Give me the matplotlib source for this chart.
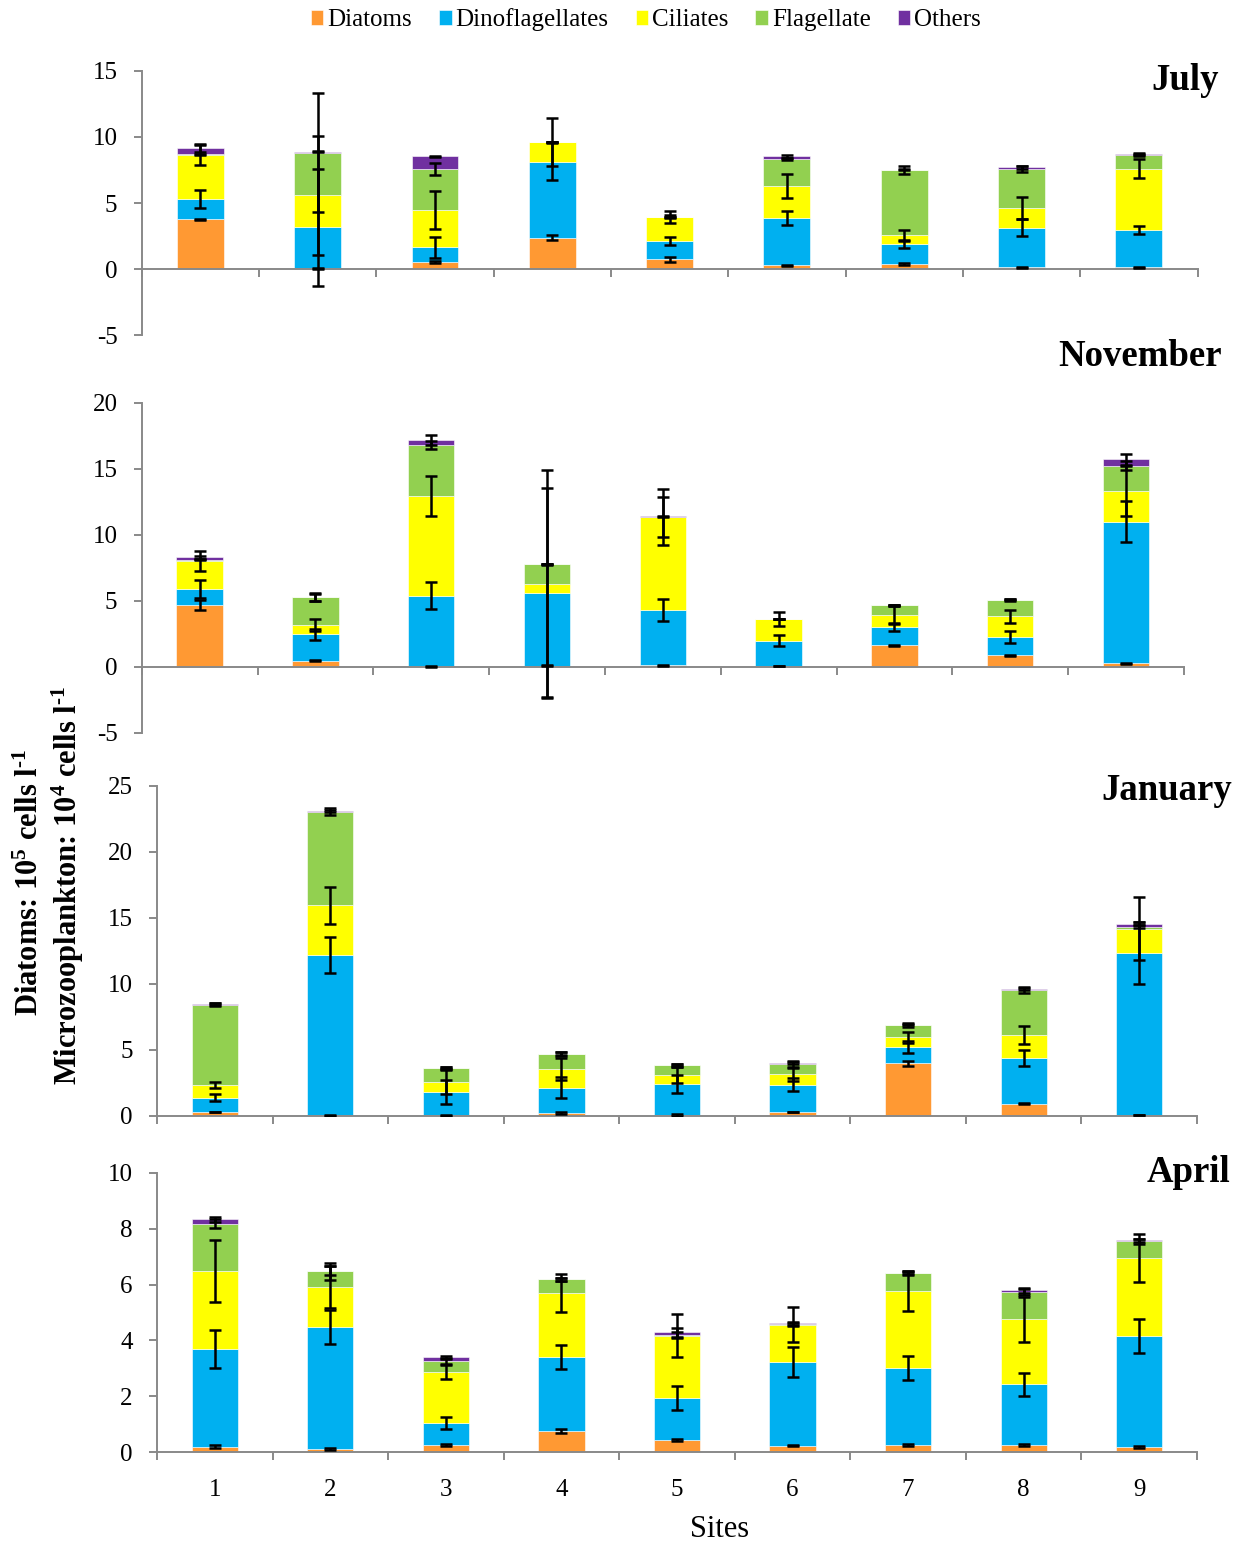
import matplotlib
matplotlib.use('Agg')
import matplotlib.pyplot as plt
import numpy as np

# ---------------- data ----------------
sites = ['1', '2', '3', '4', '5', '6', '7', '8', '9']
series = ['Diatoms', 'Dinoflagellates', 'Ciliates', 'Flagellate', 'Others']
colors = ['#FF9933', '#00B0F0', '#FFFF00', '#92D050', '#7030A0']
months = ['July', 'November', 'January', 'April']

# July
jul_diatoms = [3.76, 0.05, 0.55, 2.39, 0.73, 0.28, 0.38, 0.13, 0.13]
jul_dino = [1.53, 3.10, 1.11, 5.73, 1.39, 3.60, 1.51, 3.00, 2.82]
jul_ciliates = [3.33, 2.45, 2.80, 1.48, 1.81, 2.40, 0.68, 1.51, 4.64]
jul_flag = [0.05, 3.20, 3.10, 0.00, 0.03, 2.04, 4.92, 2.95, 1.03]
jul_others = [0.46, 0.07, 0.96, 0.00, 0.00, 0.20, 0.02, 0.10, 0.08]
jul_diatoms_err = [0.05, 0.05, 0.10, 0.17, 0.18, 0.05, 0.05, 0.05, 0.05]
jul_dino_err = [0.70, 4.45, 0.78, 1.40, 0.29, 0.55, 0.27, 0.63, 0.30]
jul_ciliates_err = [0.77, 4.50, 1.45, 1.80, 0.45, 0.88, 0.40, 0.82, 0.70]
jul_flag_err = [0.05, 4.50, 0.43, 0.00, 0.10, 0.10, 0.33, 0.22, 0.10]
jul_others_err = [0.30, 0.05, 0.05, 0.00, 0.00, 0.10, 0.05, 0.10, 0.10]

# November
nov_diatoms = [4.67, 0.45, 0.02, 0.08, 0.10, 0.05, 1.62, 0.86, 0.25]
nov_dino = [1.21, 2.02, 5.36, 5.53, 4.17, 1.92, 1.38, 1.39, 10.73]
nov_ciliates = [2.12, 0.69, 7.57, 0.65, 7.07, 1.64, 0.94, 1.56, 2.33]
nov_flag = [0.10, 2.09, 3.84, 1.49, 0.02, 0.01, 0.71, 1.24, 1.92]
nov_others = [0.18, 0.03, 0.38, 0.00, 0.02, 0.00, 0.00, 0.03, 0.48]
nov_diatoms_err = [0.35, 0.05, 0.02, 0.03, 0.03, 0.03, 0.05, 0.03, 0.03]
nov_dino_err = [0.70, 0.42, 1.04, 7.90, 0.83, 0.42, 0.33, 0.45, 1.54]
nov_ciliates_err = [0.73, 0.45, 1.52, 8.65, 2.15, 0.50, 0.69, 0.48, 1.90]
nov_flag_err = [0.05, 0.25, 0.33, 0.02, 1.53, 0.03, 0.05, 0.05, 0.33]
nov_others_err = [0.12, 0.30, 0.40, 0.00, 0.03, 0.00, 0.00, 0.05, 0.40]

# January
jan_diatoms = [0.28, 0.02, 0.03, 0.20, 0.05, 0.28, 3.99, 0.91, 0.05]
jan_dino = [1.09, 12.16, 1.79, 1.92, 2.35, 2.07, 1.24, 3.49, 12.29]
jan_ciliates = [0.96, 3.77, 0.76, 1.42, 0.66, 0.78, 0.71, 1.72, 1.84]
jan_flag = [6.09, 7.10, 1.01, 1.14, 0.76, 0.76, 0.94, 3.41, 0.15]
jan_others = [0.05, 0.05, 0.02, 0.02, 0.03, 0.13, 0.02, 0.07, 0.23]
jan_diatoms_err = [0.03, 0.02, 0.03, 0.08, 0.05, 0.03, 0.19, 0.03, 0.03]
jan_dino_err = [0.25, 1.34, 0.91, 0.80, 0.66, 0.50, 0.45, 0.60, 2.35]
jan_ciliates_err = [0.24, 1.40, 0.94, 0.85, 0.60, 0.52, 0.40, 0.70, 2.40]
jan_flag_err = [0.10, 0.28, 0.10, 0.15, 0.12, 0.20, 0.18, 0.20, 0.10]
jan_others_err = [0.05, 0.05, 0.10, 0.10, 0.10, 0.13, 0.05, 0.10, 0.10]

# April
apr_diatoms = [0.20, 0.12, 0.25, 0.76, 0.44, 0.24, 0.26, 0.26, 0.19]
apr_dino = [3.49, 4.37, 0.80, 2.65, 1.50, 3.00, 2.76, 2.18, 3.98]
apr_ciliates = [2.79, 1.42, 1.81, 2.29, 2.23, 1.32, 2.75, 2.32, 2.79]
apr_flag = [1.70, 0.57, 0.41, 0.49, 0.03, 0.02, 0.63, 0.98, 0.58]
apr_others = [0.15, 0.02, 0.13, 0.00, 0.09, 0.03, 0.02, 0.05, 0.04]
apr_diatoms_err = [0.05, 0.02, 0.04, 0.06, 0.04, 0.03, 0.03, 0.03, 0.04]
apr_dino_err = [0.67, 0.60, 0.21, 0.44, 0.42, 0.53, 0.44, 0.41, 0.61]
apr_ciliates_err = [1.10, 0.76, 0.25, 0.68, 0.77, 0.62, 0.70, 0.80, 0.86]
apr_flag_err = [0.15, 0.30, 0.10, 0.05, 0.10, 0.05, 0.05, 0.10, 0.08]
apr_others_err = [0.10, 0.15, 0.05, 0.05, 0.15, 0.05, 0.05, 0.10, 0.05]

panel_values = [
    [jul_diatoms, jul_dino, jul_ciliates, jul_flag, jul_others],
    [nov_diatoms, nov_dino, nov_ciliates, nov_flag, nov_others],
    [jan_diatoms, jan_dino, jan_ciliates, jan_flag, jan_others],
    [apr_diatoms, apr_dino, apr_ciliates, apr_flag, apr_others],
]
panel_errors = [
    [jul_diatoms_err, jul_dino_err, jul_ciliates_err, jul_flag_err, jul_others_err],
    [nov_diatoms_err, nov_dino_err, nov_ciliates_err, nov_flag_err, nov_others_err],
    [jan_diatoms_err, jan_dino_err, jan_ciliates_err, jan_flag_err, jan_others_err],
    [apr_diatoms_err, apr_dino_err, apr_ciliates_err, apr_flag_err, apr_others_err],
]
y_ranges = [(-5, 15, 5), (-5, 20, 5), (0, 25, 5), (0, 10, 2)]

# ---------------- style ----------------
plt.rcParams['font.family'] = ['Liberation Serif', 'DejaVu Serif']
plt.rcParams['mathtext.fontset'] = 'custom'
plt.rcParams['mathtext.rm'] = 'Liberation Serif'
plt.rcParams['mathtext.bf'] = 'Liberation Serif:bold'
plt.rcParams['mathtext.it'] = 'Liberation Serif:italic'

W, H = 1244, 1544
fig = plt.figure(figsize=(W / 100, H / 100), dpi=100)

# axes boxes in pixels: left, right, top, bottom
boxes = [
    (141.7, 1197.5, 70.7, 335.3),
    (141.7, 1184.0, 402.7, 732.7),
    (157.0, 1197.0, 786.0, 1115.7),
    (157.0, 1197.0, 1172.7, 1452.3),
]
title_pos = [(1219, 90.5), (1222, 366), (1232, 800.5), (1230, 1181.5)]

GRAY = '#898989'
x = np.arange(len(sites))
bar_w = 0.4

for i, (vals, errs) in enumerate(zip(panel_values, panel_errors)):
    l, r, t, b = boxes[i]
    ax = fig.add_axes([l / W, 1 - b / H, (r - l) / W, (b - t) / H])
    bottom = np.zeros(len(sites))
    for s, (v, e) in enumerate(zip(vals, errs)):
        v = np.array(v)
        ax.bar(x, v, bar_w, bottom=bottom, color=colors[s], edgecolor='white',
               linewidth=0.4, label=series[s], zorder=2)
        bottom = bottom + v
        ax.errorbar(x, bottom, yerr=e, fmt='none', ecolor='black',
                    elinewidth=1.8, capsize=4, capthick=1.8, zorder=4)
    ymin, ymax, step = y_ranges[i]
    ax.set_ylim(ymin, ymax)
    ax.set_xlim(-0.5, len(sites) - 0.5)
    ax.set_yticks(np.arange(ymin, ymax + 0.01, step))
    ax.set_yticklabels([f'{v:g}' for v in np.arange(ymin, ymax + 0.01, step)])
    ax.set_xticks(np.arange(-0.5, len(sites)), labels=[''] * (len(sites) + 1))
    if i == 3:
        ax.set_xticks(x, labels=sites, minor=True)
        ax.tick_params(axis='x', which='minor', length=0, pad=19, labelsize=18)
    else:
        ax.set_xticks([], minor=True)
    for sp in ['top', 'right']:
        ax.spines[sp].set_visible(False)
    for sp in ['left', 'bottom']:
        ax.spines[sp].set_color(GRAY)
        ax.spines[sp].set_linewidth(1.4)
    ax.spines['bottom'].set_position(('data', 0))
    ax.tick_params(axis='y', which='major', length=5.5, width=1.4, color=GRAY,
                   labelsize=18, pad=12)
    ax.tick_params(axis='x', which='major', length=6, width=1.4, color=GRAY)
    ax.patch.set_alpha(0)
    tx, ty = title_pos[i]
    fig.text(tx / W, 1 - ty / H, months[i], ha='right', va='baseline',
             fontsize=26.5, fontweight='bold')
    if i == 0:
        handles, labels = ax.get_legend_handles_labels()

fig.legend(handles, labels, loc='center', bbox_to_anchor=(646 / W, 1 - 20 / H),
           ncol=5, frameon=False, fontsize=18, handlelength=0.5,
           handleheight=0.55, handletextpad=0.16, columnspacing=1.08,
           borderaxespad=0, borderpad=0)

fig.text(720 / W, 1 - 1537 / H, 'Sites', ha='center', va='baseline', fontsize=22)
fig.text(30 / W, 1 - 882 / H, 'Diatoms: 10$^{\\mathbf{5}}$ cells l$^{\\mathbf{\u2010 1}}$',
         rotation=90, ha='center', va='center', fontsize=22, fontweight='bold')
fig.text(68 / W, 1 - 885 / H,
         'Microzooplankton: 10$^{\\mathbf{4}}$ cells l$^{\\mathbf{\u20101}}$',
         rotation=90, ha='center', va='center', fontsize=22, fontweight='bold')

fig.savefig('out.png', dpi=100)
